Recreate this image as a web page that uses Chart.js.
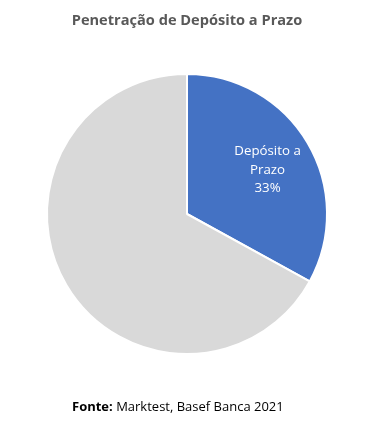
<!DOCTYPE html>
<html><head><meta charset="utf-8">
<script src="https://cdn.jsdelivr.net/npm/chart.js@4.4.1/dist/chart.umd.min.js"></script>
<style>
html,body{margin:0;padding:0;background:#fff;}
#wrap{position:relative;width:389px;height:430px;overflow:hidden;}
#title{position:absolute;left:0;width:374px;top:9px;text-align:center;font:bold 14.6px "Open Sans",sans-serif;color:#595959;}
#foot{position:absolute;left:72px;top:397px;font:13px "Open Sans",sans-serif;color:#000;}
canvas{position:absolute;left:0;top:0;}
</style></head>
<body><div id="wrap"><canvas id="c" width="389" height="430"></canvas>
<div id="title">Penetração de Depósito a Prazo</div>
<div id="foot"><b>Fonte:</b> Marktest, Basef Banca 2021</div></div>
<script>
const categories = ["Depósito a Prazo", "Outros"];
const values = [33, 67];
const labelLines = [["Depósito a", "Prazo", "33%"], null];
const colors = ["#4472C4", "#D9D9D9"];

const labelPlugin = {
  id: 'sliceLabels',
  afterDatasetsDraw(chart) {
    const ctx = chart.ctx;
    const meta = chart.getDatasetMeta(0);
    meta.data.forEach((arc, i) => {
      const lines = labelLines[i];
      if (!lines) return;
      const mid = (arc.startAngle + arc.endAngle) / 2;
      const r = arc.outerRadius * 0.66;
      const x = arc.x + Math.cos(mid) * r + 1;
      const y = arc.y + Math.sin(mid) * r + 3;
      ctx.save();
      ctx.fillStyle = '#fff';
      ctx.font = '13.3px "Open Sans", sans-serif';
      ctx.textAlign = 'center';
      ctx.textBaseline = 'middle';
      const lh = 18.5;
      lines.forEach((t, k) => ctx.fillText(t, x, y + (k - (lines.length - 1) / 2) * lh));
      ctx.restore();
    });
  }
};

new Chart(document.getElementById('c'), {
  type: 'pie',
  data: { labels: categories, datasets: [{ data: values, backgroundColor: colors, borderColor: '#fff', borderWidth: 2 }] },
  options: {
    responsive: false, animation: false,
    layout: { padding: { left: 46, right: 61, top: 73, bottom: 75 } },
    plugins: { legend: { display: false }, tooltip: { enabled: false }, title: { display: false } }
  },
  plugins: [labelPlugin]
});
</script></body></html>
